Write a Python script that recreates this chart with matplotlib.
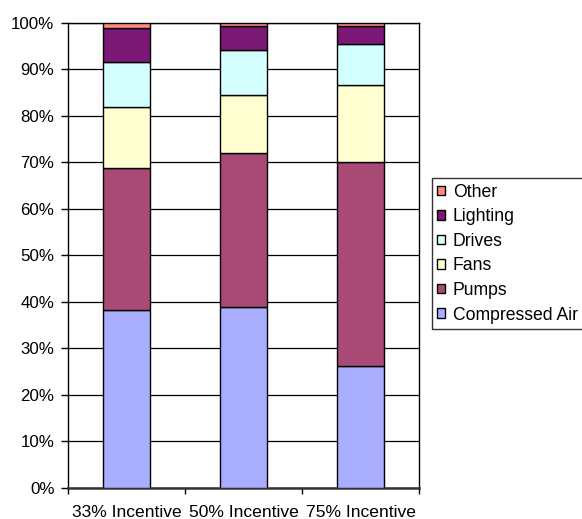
import matplotlib
matplotlib.use("Agg")
import matplotlib.pyplot as plt
import numpy as np
from matplotlib.patches import Patch
from matplotlib.ticker import PercentFormatter, MultipleLocator

plt.rcParams['font.family'] = ['Liberation Sans', 'DejaVu Sans']

categories = ['33% Incentive', '50% Incentive', '75% Incentive']
series_names = ['Compressed Air', 'Pumps', 'Fans', 'Drives', 'Lighting', 'Other']
compressed_air = [38.3, 38.9, 26.2]
pumps = [30.4, 33.0, 43.8]
fans = [13.1, 12.6, 16.6]
drives = [9.8, 9.6, 8.9]
lighting = [7.3, 5.1, 3.7]
other = [1.1, 0.8, 0.8]
colors = ['#AAAEFF', '#A94A76', '#FFFFD2', '#D4FFFF', '#7B1876', '#FF8C80']

series = [compressed_air, pumps, fans, drives, lighting, other]

fig = plt.figure(figsize=(5.82, 5.19), dpi=100)
ax = fig.add_axes([0.1174, 0.0603, 0.6025, 0.8960])

x = np.arange(len(categories))
bottom = np.zeros(len(categories))
handles = []
for name, vals, col in zip(series_names, series, colors):
    vals = np.array(vals)
    ax.bar(x, vals, width=0.40, bottom=bottom, color=col,
           edgecolor='black', linewidth=1.0, zorder=3)
    bottom += vals
    handles.append(Patch(facecolor=col, edgecolor='black', linewidth=1.0, label=name))

ax.set_xlim(-0.5, 2.5)
ax.set_ylim(0, 100)
ax.yaxis.set_major_locator(MultipleLocator(10))
ax.yaxis.set_major_formatter(PercentFormatter(decimals=0))
ax.grid(axis='y', color='black', linewidth=0.9, zorder=0)

ax.set_xticks([-0.5, 0.5, 1.5, 2.5])
ax.set_xticklabels([])
ax.set_xticks(x, minor=True)
ax.set_xticklabels(categories, minor=True, fontsize=12.6)
ax.tick_params(axis='x', which='major', length=4, width=1, direction='out')
ax.tick_params(axis='x', which='minor', length=0, pad=12.5)
ax.tick_params(axis='y', length=5, width=1, direction='out', labelsize=12.2, pad=5)

for s in ['left', 'right', 'top']:
    ax.spines[s].set_linewidth(1.0)
    ax.spines[s].set_color('black')
ax.spines['bottom'].set_linewidth(1.8)
ax.spines['bottom'].set_color('#333333')

leg = fig.legend(handles=handles[::-1], loc='upper left',
                 bbox_to_anchor=(431.7 / 582, 1 - 178.3 / 519),
                 fontsize=12.7, frameon=True, fancybox=False, shadow=False,
                 handlelength=0.45, handleheight=0.45, handletextpad=0.45,
                 labelspacing=0.43, borderpad=0.3, borderaxespad=0)
leg.get_frame().set_edgecolor('black')
leg.get_frame().set_linewidth(1.0)

fig.savefig('out.png', dpi=100)
